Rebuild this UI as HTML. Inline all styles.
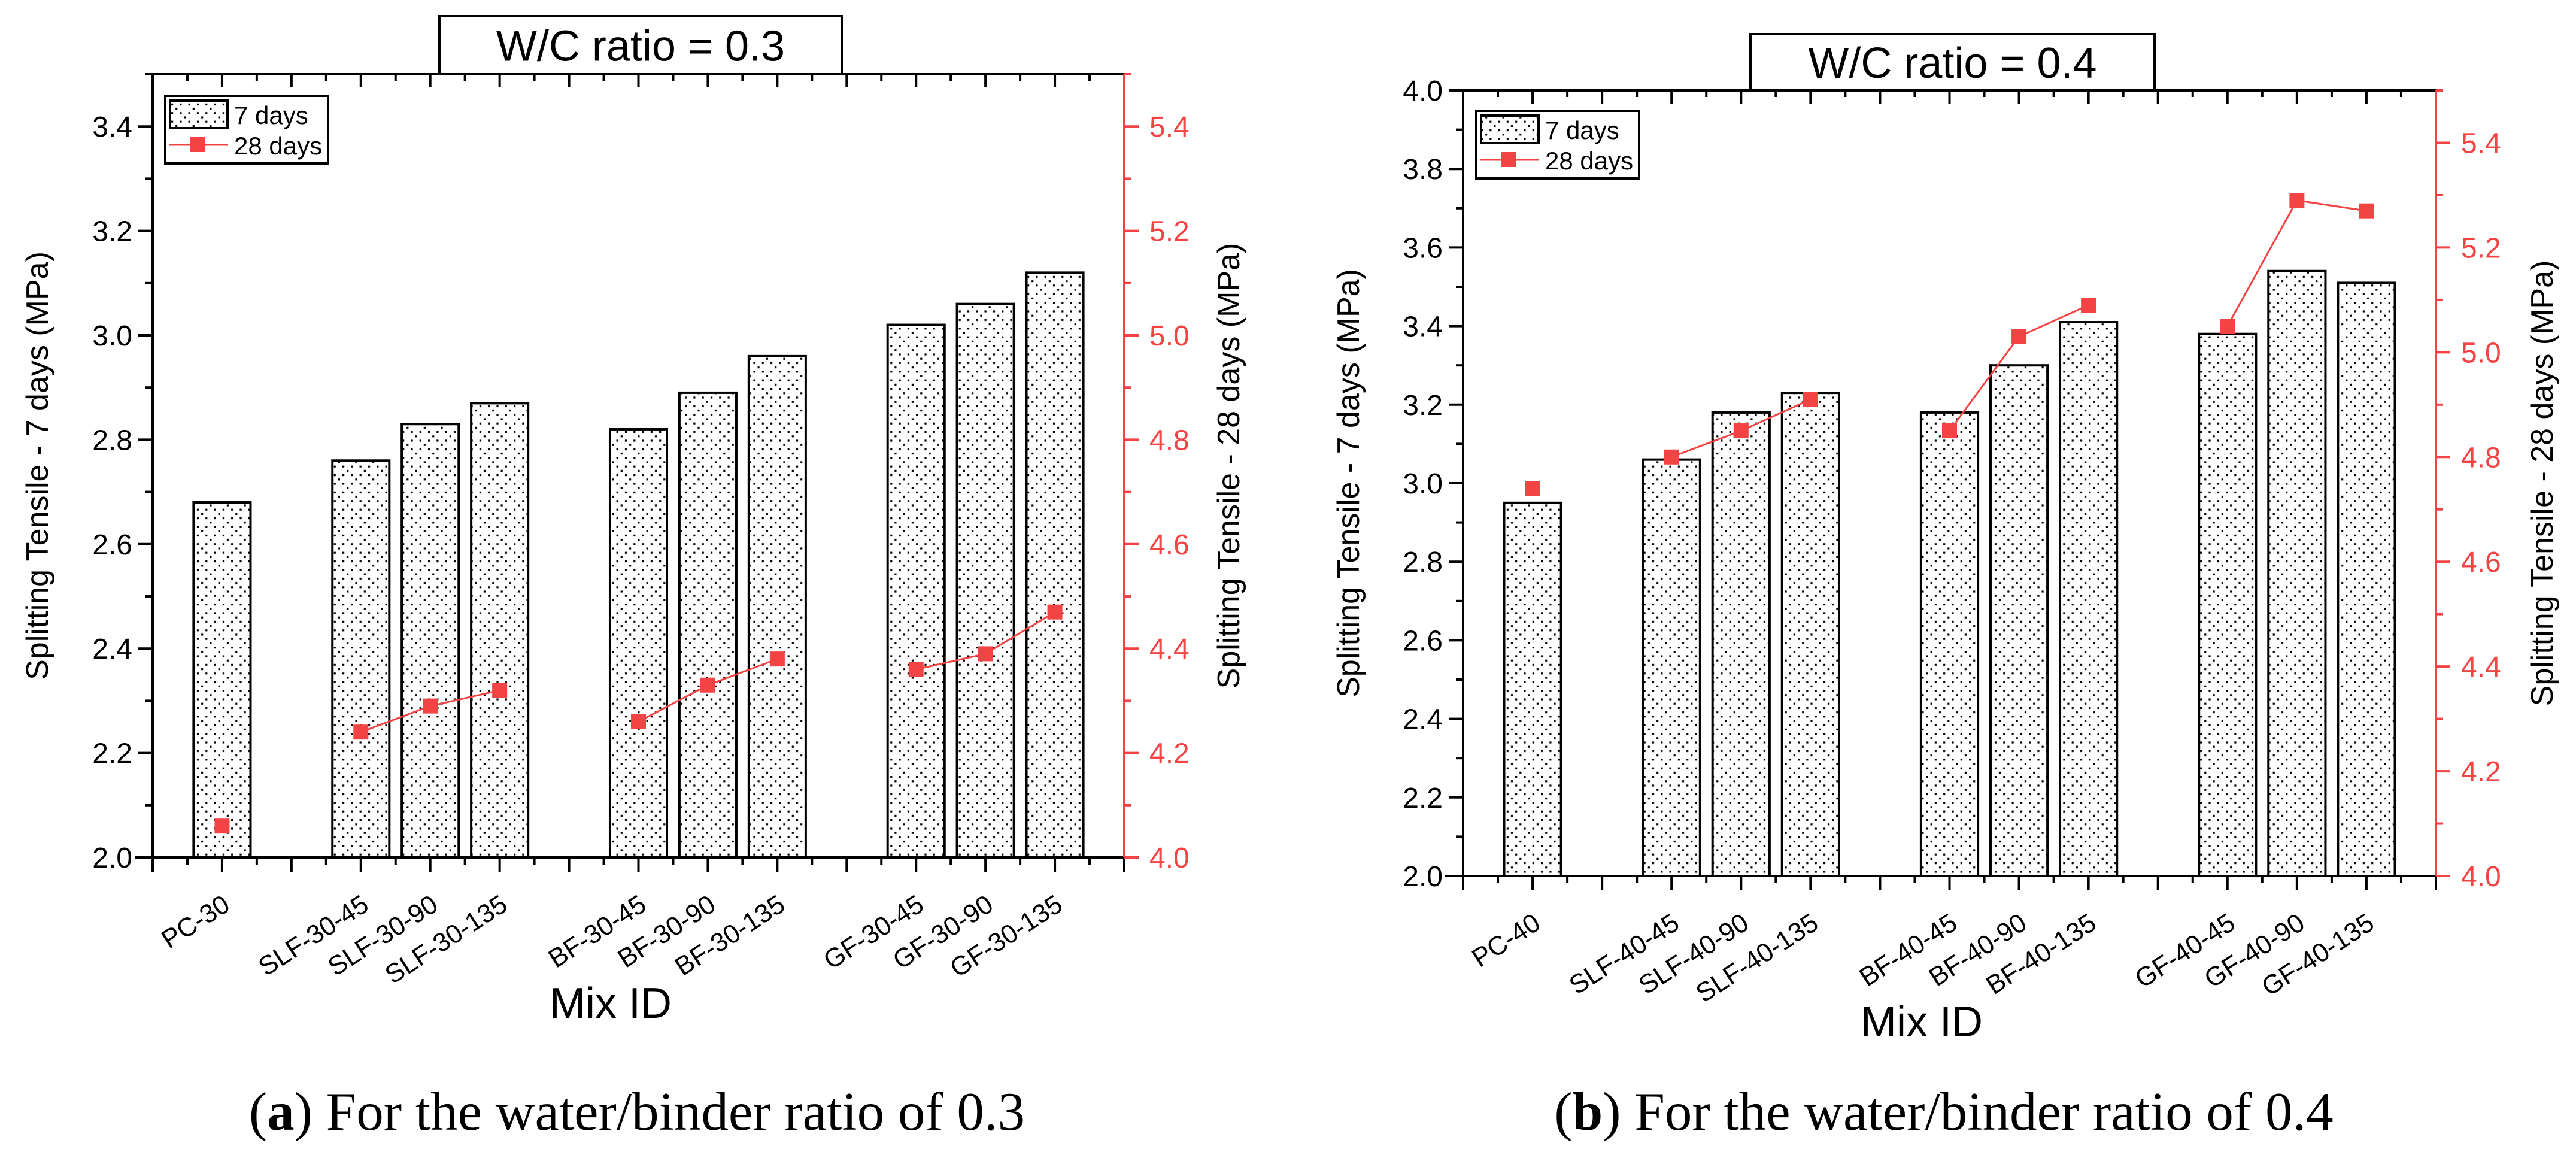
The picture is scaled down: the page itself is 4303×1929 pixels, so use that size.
<!DOCTYPE html>
<html><head><meta charset="utf-8"><style>
html,body{margin:0;padding:0;background:#fff;}
svg{display:block;font-family:"Liberation Sans",Arial,sans-serif;}
</style></head><body>
<svg id="fig" width="4303" height="1929" viewBox="0 0 4303 1929" xmlns="http://www.w3.org/2000/svg">
<defs>
<pattern id="dots" patternUnits="userSpaceOnUse" width="28.6" height="28.8">
<rect x="0" y="0" width="3.2" height="3.2" fill="#000"/><rect x="14.3" y="0" width="3.2" height="3.2" fill="#000"/>
<rect x="7.1" y="7.2" width="3.2" height="3.2" fill="#000"/>
<rect x="0" y="14.4" width="3.2" height="3.2" fill="#000"/><rect x="14.3" y="14.4" width="3.2" height="3.2" fill="#000"/>
<rect x="21.4" y="21.6" width="3.2" height="3.2" fill="#000"/>
</pattern>
</defs>
</svg>
<script>
const categoriesA = ["PC-30","SLF-30-45","SLF-30-90","SLF-30-135","BF-30-45","BF-30-90","BF-30-135","GF-30-45","GF-30-90","GF-30-135"];
const categoriesB = ["PC-40","SLF-40-45","SLF-40-90","SLF-40-135","BF-40-45","BF-40-90","BF-40-135","GF-40-45","GF-40-90","GF-40-135"];
const slots = [1,3,4,5,7,8,9,11,12,13];
const groups = [[0],[1,2,3],[4,5,6],[7,8,9]];
const sevenDayA = [2.68,2.76,2.83,2.87,2.82,2.89,2.96,3.02,3.06,3.12];
const twentyEightDayA = [4.06,4.24,4.29,4.32,4.26,4.33,4.38,4.36,4.39,4.47];
const sevenDayB = [2.95,3.06,3.18,3.23,3.18,3.30,3.41,3.38,3.54,3.51];
const twentyEightDayB = [4.74,4.80,4.85,4.91,4.85,5.03,5.09,5.05,5.29,5.27];
const leftTicksA = ["2.0","2.2","2.4","2.6","2.8","3.0","3.2","3.4"];
const leftTicksB = ["2.0","2.2","2.4","2.6","2.8","3.0","3.2","3.4","3.6","3.8","4.0"];
const rightTicks = ["4.0","4.2","4.4","4.6","4.8","5.0","5.2","5.4"];

const svg = document.getElementById('fig');
const NS = 'http://www.w3.org/2000/svg';
function mk(tag, attrs, parent, text){
  const e = document.createElementNS(NS, tag);
  for (const k in attrs) e.setAttribute(k, attrs[k]);
  if (text !== undefined) e.textContent = text;
  (parent||svg).appendChild(e); return e;
}
const RED = '#f24444';

function drawChart(cfg){
  const g = mk('g', {});
  
  
  const L=cfg.left,R=cfg.right,T=cfg.top,B=cfg.bottom;
  const unit=(R-L)/14;
  const xs = i => L + i*unit;
  const yL = v => B - (v-2.0)/(cfg.lmax-2.0)*(B-T);
  const yR = v => B - (v-4.0)/1.5*(B-T);
  cfg.seven.forEach((v,i)=>{
    const cx = xs(slots[i]); const w = unit*0.82;
    const r = mk('rect',{x:cx-w/2,y:yL(v),width:w,height:B-yL(v),fill:'url(#dots)',stroke:'#000','stroke-width':4},g);
    
    
  });
  mk('line',{x1:L,y1:T,x2:R,y2:T,stroke:'#000','stroke-width':4},g);
  mk('line',{x1:L-30,y1:B,x2:R,y2:B,stroke:'#000','stroke-width':4},g);
  mk('line',{x1:L,y1:T,x2:L,y2:B,stroke:'#000','stroke-width':4},g);
  mk('line',{x1:R,y1:T,x2:R,y2:B,stroke:RED,'stroke-width':4},g);
  for(let k=0;k<=28;k++){
    const x=L+k*unit/2, maj=k%2===0;
    mk('line',{x1:x,y1:B,x2:x,y2:B+(maj?24:12),stroke:'#000','stroke-width':4},g);
    if(k>0&&k<28) mk('line',{x1:x,y1:T,x2:x,y2:T+(maj?22:11),stroke:'#000','stroke-width':4},g);
  }
  const nL = Math.round((cfg.lmax-2.0)/0.1);
  for(let k=0;k<=nL;k++){
    const y=yL(2.0+k*0.1), maj=k%2===0;
    mk('line',{x1:L,y1:y,x2:L-(maj?24:12),y2:y,stroke:'#000','stroke-width':4},g);
  }
  cfg.lticks.forEach(t=>{
    const tx=mk('text',{x:L-34,y:yL(parseFloat(t))+17,'font-size':48,'text-anchor':'end',fill:'#000'},g,t);
    
    
  });
  for(let k=0;k<=15;k++){
    const y=yR(4.0+k*0.1), maj=k%2===0;
    mk('line',{x1:R,y1:y,x2:R+(maj?24:12),y2:y,stroke:RED,'stroke-width':4},g);
  }
  rightTicks.forEach(t=>{
    const tx=mk('text',{x:R+42,y:yR(parseFloat(t))+17,'font-size':48,fill:RED},g,t);
    
    
  });
  cfg.cats.forEach((c,i)=>{
    const x=xs(slots[i])+16, y=B+86;
    const tx=mk('text',{x:x,y:y,'font-size':44,'text-anchor':'end',transform:`rotate(-33 ${x} ${y})`},g,c);
    
    
  });
  groups.forEach(gr=>{
    if(gr.length>1){
      const pts=gr.map(i=>xs(slots[i])+','+yR(cfg.twenty[i])).join(' ');
      const pl=mk('polyline',{points:pts,fill:'none',stroke:RED,'stroke-width':3},g);
      
      
    }
  });
  cfg.twenty.forEach((v,i)=>{
    const m=mk('rect',{x:xs(slots[i])-12.5,y:yR(v)-12.5,width:25,height:25,fill:RED},g);
    
    
  });
  const tb=mk('rect',{x:cfg.tb[0],y:cfg.tb[1],width:cfg.tb[2]-cfg.tb[0],height:cfg.tb[3]-cfg.tb[1],fill:'#fff',stroke:'#000','stroke-width':4},g);
  
  
  const tt=mk('text',{x:(cfg.tb[0]+cfg.tb[2])/2,y:(cfg.tb[1]+cfg.tb[3])/2+26,'font-size':72,'text-anchor':'middle'},g,cfg.title);
  
  
  const lg=cfg.lg;
  const lb=mk('rect',{x:lg[0],y:lg[1],width:272,height:113,fill:'#fff',stroke:'#000','stroke-width':4},g);
  
  
  mk('rect',{x:lg[0]+8,y:lg[1]+8,width:96,height:46,fill:'url(#dots)',stroke:'#000','stroke-width':4},g);
  mk('text',{x:lg[0]+115,y:lg[1]+47,'font-size':42},g,'7 days');
  mk('line',{x1:lg[0]+6,y1:lg[1]+82,x2:lg[0]+105,y2:lg[1]+82,stroke:RED,'stroke-width':3},g);
  mk('rect',{x:lg[0]+42,y:lg[1]+69,width:25,height:25,fill:RED},g);
  mk('text',{x:lg[0]+115,y:lg[1]+98,'font-size':42},g,'28 days');
  const ly=(T+B)/2;
  const a1=mk('text',{x:cfg.ltx,y:ly,'font-size':52,'text-anchor':'middle',transform:`rotate(-90 ${cfg.ltx} ${ly})`},g,'Splitting Tensile - 7 days (MPa)');
  
  
  const a2=mk('text',{x:cfg.rtx,y:ly,'font-size':52,'text-anchor':'middle',transform:`rotate(-90 ${cfg.rtx} ${ly})`},g,'Splitting Tensile - 28 days (MPa)');
  
  
  const xt=mk('text',{x:cfg.mix[0],y:cfg.mix[1]+27,'font-size':72,'text-anchor':'middle'},g,'Mix ID');
  
  
  const cap=mk('text',{x:cfg.cap[0],y:cfg.cap[1]+30,'font-size':91,'text-anchor':'middle','font-family':'"Liberation Serif",serif'},g);
  
  
  mk('tspan',{},cap,'(');
  mk('tspan',{'font-weight':'bold'},cap,cfg.letter);
  mk('tspan',{},cap,') For the water/binder ratio of '+cfg.ratio);
}

drawChart({name:'chart-a',left:255,right:1878,top:124,bottom:1432,lmax:3.5,cats:categoriesA,seven:sevenDayA,twenty:twentyEightDayA,
  lticks:leftTicksA,tb:[734,27,1406,124],title:'W/C ratio = 0.3',lg:[276,160],ltx:80,rtx:2070,mix:[1020,1673],cap:[1064,1857],letter:'a',ratio:'0.3'});
drawChart({name:'chart-b',left:2444,right:4069,top:151,bottom:1463,lmax:4.0,cats:categoriesB,seven:sevenDayB,twenty:twentyEightDayB,
  lticks:leftTicksB,tb:[2924,57,3599,151],title:'W/C ratio = 0.4',lg:[2466,185],ltx:2270,rtx:4264,mix:[3210,1704],cap:[3247,1857],letter:'b',ratio:'0.4'});
</script>
</body></html>
